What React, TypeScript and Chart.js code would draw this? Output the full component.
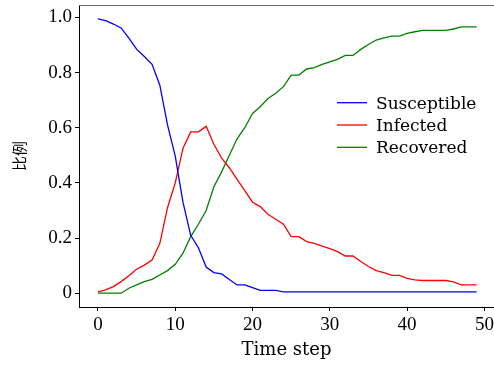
import React, { useEffect, useRef } from 'react';
import { Chart, registerables } from 'chart.js';

Chart.register(...registerables);

const timeSteps = [
  0, 1, 2, 3, 4, 5, 6, 7, 8, 9,
  10, 11, 12, 13, 14, 15, 16, 17, 18, 19,
  20, 21, 22, 23, 24, 25, 26, 27, 28, 29,
  30, 31, 32, 33, 34, 35, 36, 37, 38, 39,
  40, 41, 42, 43, 44, 45, 46, 47, 48, 49,
];

const susceptible = [
  0.995, 0.988, 0.976, 0.962, 0.925, 0.885, 0.858, 0.83, 0.755, 0.61,
  0.497, 0.33, 0.21, 0.165, 0.095, 0.075, 0.07, 0.05, 0.03, 0.03,
  0.02, 0.01, 0.01, 0.01, 0.005, 0.005, 0.005, 0.005, 0.005, 0.005,
  0.005, 0.005, 0.005, 0.005, 0.005, 0.005, 0.005, 0.005, 0.005, 0.005,
  0.005, 0.005, 0.005, 0.005, 0.005, 0.005, 0.005, 0.005, 0.005, 0.005,
];

const infected = [
  0.005, 0.012, 0.024, 0.042, 0.063, 0.087, 0.102, 0.12, 0.18, 0.31,
  0.4, 0.525, 0.585, 0.585, 0.605, 0.54, 0.49, 0.455, 0.413, 0.372,
  0.33, 0.314, 0.286, 0.268, 0.25, 0.205, 0.205, 0.187, 0.181, 0.171,
  0.162, 0.151, 0.135, 0.135, 0.115, 0.097, 0.082, 0.075, 0.065, 0.065,
  0.054, 0.048, 0.046, 0.046, 0.046, 0.046, 0.041, 0.03, 0.03, 0.03,
];

const recovered = [
  0, 0, 0, 0, 0.018, 0.03, 0.042, 0.05, 0.066, 0.082,
  0.105, 0.145, 0.205, 0.25, 0.3, 0.386, 0.44, 0.5, 0.56, 0.6,
  0.652, 0.676, 0.706, 0.725, 0.749, 0.791, 0.791, 0.813, 0.818, 0.83,
  0.839, 0.848, 0.862, 0.862, 0.884, 0.902, 0.918, 0.926, 0.932, 0.932,
  0.942, 0.948, 0.953, 0.953, 0.953, 0.953, 0.958, 0.966, 0.966, 0.966,
];

const seriesNames = ['Susceptible', 'Infected', 'Recovered'];
const seriesColors = ['#0000ff', '#ff0000', '#008000'];
const xTicks = [0, 10, 20, 30, 40, 50];
const yTicks = [0, 0.2, 0.4, 0.6, 0.8, 1.0];
const xTitle = 'Time step';
const yTitle = '比例';

const TICK_FONT = { family: '"Liberation Serif", serif', size: 19 };
const TEXT_FONT = '"DejaVu Serif", serif';

const zeroPad = (s: any) => {
  s.paddingLeft = 0;
  s.paddingRight = 0;
  s.paddingTop = 0;
  s.paddingBottom = 0;
};

const overlayPlugin = {
  id: 'overlay',
  afterDraw(chart: any) {
    const { ctx, chartArea } = chart;
    ctx.save();
    // top spine
    ctx.strokeStyle = '#666';
    ctx.lineWidth = 1;
    ctx.beginPath();
    ctx.moveTo(chartArea.left, chartArea.top + 0.5);
    ctx.lineTo(chartArea.right, chartArea.top + 0.5);
    ctx.stroke();
    // legend
    ctx.font = `17px ${TEXT_FONT}`;
    ctx.textBaseline = 'alphabetic';
    ctx.textAlign = 'left';
    chart.data.datasets.forEach((ds: any, i: number) => {
      const y = 102.7 + i * 22.3;
      ctx.strokeStyle = ds.borderColor;
      ctx.lineWidth = 1.3;
      ctx.beginPath();
      ctx.moveTo(337, y);
      ctx.lineTo(367, y);
      ctx.stroke();
      ctx.fillStyle = '#000';
      ctx.fillText(ds.label, 376, y + 6);
    });
    ctx.restore();
  },
};

export default function App() {
  const ref = useRef<HTMLCanvasElement | null>(null);

  useEffect(() => {
    if (!ref.current) return;
    const series = [susceptible, infected, recovered];
    const chart = new Chart(ref.current, {
      type: 'line',
      data: {
        datasets: series.map((vals, i) => ({
          label: seriesNames[i],
          data: timeSteps.map((t, j) => ({ x: t, y: vals[j] })),
          borderColor: seriesColors[i],
          backgroundColor: seriesColors[i],
          borderWidth: 1.3,
          pointRadius: 0,
          tension: 0,
          fill: false,
        })),
      },
      options: {
        animation: false,
        responsive: false,
        devicePixelRatio: 1,
        layout: { autoPadding: false, padding: { top: 5, left: 0, right: 0, bottom: 0 } },
        plugins: {
          legend: { display: false },
          tooltip: { enabled: false },
        },
        scales: {
          x: {
            type: 'linear',
            min: -2.45,
            max: 51.24,
            afterFit: (s: any) => { s.height = 58; zeroPad(s); },
            afterBuildTicks: (s: any) => { s.ticks = xTicks.map((v) => ({ value: v })); },
            grid: { drawOnChartArea: false, drawTicks: true, tickLength: 4, color: '#000', lineWidth: 1 },
            border: { display: true, color: '#000', width: 1 },
            ticks: {
              font: TICK_FONT,
              color: '#000',
              padding: 3,
              maxRotation: 0,
              callback: (v: any) => String(v),
            },
            title: {
              display: true,
              text: xTitle,
              color: '#000',
              font: { family: TEXT_FONT, size: 18 },
              padding: { top: 0, bottom: 4 },
            },
          },
          y: {
            type: 'linear',
            min: -0.05,
            max: 1.045,
            afterFit: (s: any) => { s.width = 79; zeroPad(s); },
            afterBuildTicks: (s: any) => { s.ticks = yTicks.map((v) => ({ value: v })); },
            grid: { drawOnChartArea: false, drawTicks: true, tickLength: 4, color: '#000', lineWidth: 1 },
            border: { display: true, color: '#000', width: 1 },
            ticks: {
              font: TICK_FONT,
              color: '#000',
              padding: 3,
              callback: (v: any) => (v === 0 ? '0' : Number(v).toFixed(1)),
            },
            title: {
              display: true,
              text: yTitle,
              color: '#000',
              font: { family: '"Noto Sans CJK SC", sans-serif', size: 15 },
              padding: { top: 10, bottom: 0 },
            },
          },
        },
      },
      plugins: [overlayPlugin],
    });
    return () => chart.destroy();
  }, []);

  return (
    <div style={{ position: 'fixed', left: 0, top: 0, width: 494, height: 365, background: '#fff' }}>
      <canvas ref={ref} width={494} height={365} style={{ display: 'block', width: 494, height: 365 }} />
    </div>
  );
}
